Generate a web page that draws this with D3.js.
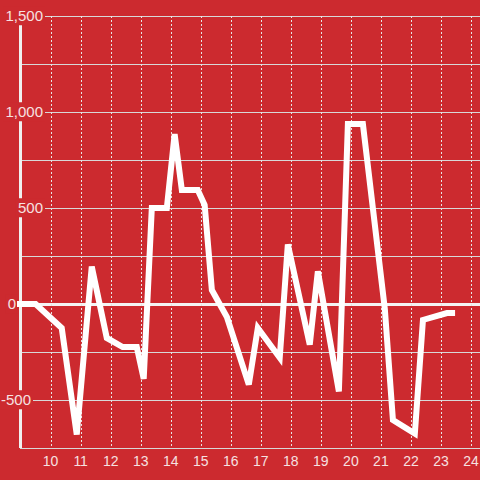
<!DOCTYPE html>
<html>
<head>
<meta charset="utf-8">
<script src="https://cdn.jsdelivr.net/npm/d3@7"></script>
<style>
  html, body { margin: 0; padding: 0; background: #cc2a2f; }
  svg { display: block; font-family: "Liberation Sans", Arial, sans-serif; }
</style>
</head>
<body>
<svg width="480" height="480"></svg>
<script>
const xVals = [8.88, 9.5, 10.37, 10.87, 11.37, 11.87, 12.4, 12.87, 13.1, 13.37, 13.87, 14.13, 14.37, 14.9,
    15.13, 15.37, 15.87, 16.6, 16.9, 17.63, 17.9, 18.63, 18.9, 19.6, 19.9, 20.4, 21.13, 21.4, 22.13,
    22.4, 23.2, 23.47];
const yVals = [0, 0, -125, -680, 195, -177, -224, -224, -390, 500, 500, 885, 594, 594,
    515, 73, -68, -420, -125, -280, 310, -212, 170, -455, 937, 937, -25, -604, -675,
    -83, -47, -47];
const xTicks = d3.range(10, 25);
const yGrid = [-750, -500, -250, 0, 250, 500, 750, 1000, 1250, 1500];
const yLabels = [1500, 1000, 500, 0, -500];

const svg = d3.select("svg");
const bg = "#cc2a2f";
const textCol = "#f6e1e1";

const x = d3.scaleLinear().domain([8.98, 24.3]).range([20, 480]);
const y = d3.scaleLinear().domain([-750, 1500]).range([448, 16]);

// horizontal grid
svg.append("g").selectAll("line")
    .data(yGrid)
    .join("line")
    .attr("x1", 20).attr("x2", 480)
    .attr("y1", d => y(d)).attr("y2", d => y(d))
    .attr("stroke", d => d === 0 ? "#f4f4f4" : "#d8d8d8")
    .attr("stroke-width", d => d === 0 ? 3 : 1)
    .attr("shape-rendering", "crispEdges");

// vertical dotted grid
svg.append("g").selectAll("line")
    .data(xTicks)
    .join("line")
    .attr("x1", d => Math.round(x(d)) + 0.5).attr("x2", d => Math.round(x(d)) + 0.5)
    .attr("y1", y(1500)).attr("y2", 448)
    .attr("stroke", "#e6e6e6")
    .attr("stroke-width", 1)
    .attr("stroke-dasharray", "2,2");

// y axis line
svg.append("line")
    .attr("x1", 20.5).attr("x2", 20.5)
    .attr("y1", y(1500)).attr("y2", 448)
    .attr("stroke", "#f0f0f0").attr("stroke-width", 3);

// y labels with background boxes
const labelRight = {1500: 43, 1000: 43, 500: 43, 0: 16, "-500": 31};
const fmt = d3.format(",");
const yl = svg.append("g").selectAll("g")
    .data(yLabels)
    .join("g");
yl.append("text")
    .attr("x", d => labelRight[d])
    .attr("y", d => y(d))
    .attr("dy", "0.35em")
    .attr("text-anchor", "end")
    .attr("font-size", 15)
    .attr("fill", textCol)
    .text(d => fmt(d).replace("−", "-"))
    .each(function() {
        const b = this.getBBox();
        d3.select(this.parentNode).insert("rect", "text")
            .attr("x", b.x - 2).attr("y", b.y - 1)
            .attr("width", b.width + 4).attr("height", b.height + 2)
            .attr("fill", bg);
    });

// x axis labels
svg.append("g").selectAll("text")
    .data(xTicks)
    .join("text")
    .attr("x", d => x(d))
    .attr("y", 461)
    .attr("dy", "0.35em")
    .attr("text-anchor", "middle")
    .attr("font-size", 14)
    .attr("fill", textCol)
    .text(d => d);

// data line
const line = d3.line()
    .x((d, i) => x(xVals[i]))
    .y(d => y(d));

svg.append("path")
    .attr("d", line(yVals))
    .attr("fill", "none")
    .attr("stroke", "#ffffff")
    .attr("stroke-width", 6)
    .attr("stroke-linejoin", "miter")
    .attr("stroke-linecap", "butt");
</script>
</body>
</html>
